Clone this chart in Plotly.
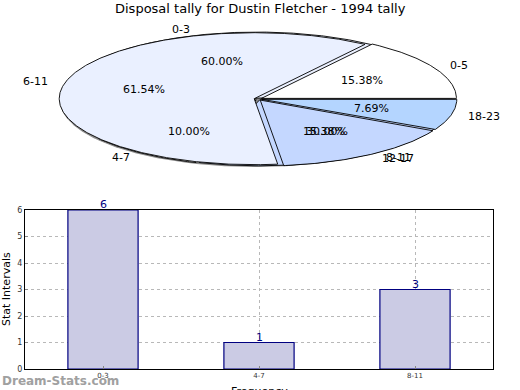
import numpy as np
import plotly.graph_objects as go

# ---- data ----
title_text = "Disposal tally for Dustin Fletcher - 1994 tally"
pieA_labels = ["0-3", "4-7", "8-11"]
pieA_values = [6, 1, 3]
pieA_colors = ["#eaf0ff", "#ffffff", "#c4d7ff"]
pieB_labels = ["0-5", "6-11", "12-17", "18-23"]
pieB_values = [2, 8, 2, 1]
pieB_colors = ["#ffffff", "#eaf0ff", "#c4d7ff", "#b4d5ff"]
bar_categories = ["0-3", "4-7", "8-11"]
bar_values = [6, 1, 3]
x_title = "Frequency"
y_title = "Stat Intervals"

FONT = "DejaVu Sans"
W, H = 520, 390
# pie geometry (pixel space of top subplot)
CX, CY, RA, RB = 258, 99, 195, 66

fig = go.Figure()


def wedges(values):
    v = np.asarray(values, dtype=float)
    frac = v / v.sum()
    ends = np.cumsum(frac) * 360
    starts = np.concatenate([[0], ends[:-1]])
    return frac, starts, ends


def add_pie(values, colors, explode, dx=0, dy=0, shadow=False):
    frac, starts, ends = wedges(values)
    for f, s, e, c in zip(frac, starts, ends, colors):
        mid = np.radians((s + e) / 2)
        ox = CX + dx + explode * RA * np.cos(mid)
        oy = CY + dy - explode * RB * np.sin(mid)
        t = np.radians(np.linspace(s, e, max(int(e - s) * 2, 4)))
        xs = np.concatenate([[ox], ox + RA * np.cos(t), [ox]])
        ys = np.concatenate([[oy], oy - RB * np.sin(t), [oy]])
        fig.add_trace(go.Scatter(
            x=xs, y=ys, mode="lines", fill="toself",
            fillcolor="rgba(0,0,0,0.45)" if shadow else c,
            line=dict(color="rgba(0,0,0,0)" if shadow else "black", width=0 if shadow else 0.9),
            xaxis="x2", yaxis="y2", hoverinfo="skip", showlegend=False))


# shadows
add_pie(pieA_values, pieA_colors, 0.0, dx=-3, dy=2, shadow=True)
# pie A
add_pie(pieA_values, pieA_colors, 0.015)
# pie B on top
add_pie(pieB_values, pieB_colors, 0.02)


def add_labels(labels, values):
    frac, starts, ends = wedges(values)
    for lab, f, s, e in zip(labels, frac, starts, ends):
        mid = np.radians((s + e) / 2)
        cx, sy = np.cos(mid), np.sin(mid)
        fig.add_annotation(x=CX + 0.6 * RA * cx, y=CY - 0.6 * RB * sy, xref="x2", yref="y2",
                           text=f"{f*100:.2f}%", showarrow=False,
                           font=dict(family=FONT, size=11, color="black"),
                           xanchor="center", yanchor="middle")
        fig.add_annotation(x=CX + 1.1 * RA * cx, y=CY - 1.1 * RB * sy, xref="x2", yref="y2",
                           text=lab, showarrow=False,
                           font=dict(family=FONT, size=11, color="black"),
                           xanchor="left" if cx > 0 else "right", yanchor="middle")


add_labels(pieA_labels, pieA_values)
add_labels(pieB_labels, pieB_values)

# bar chart
fig.add_trace(go.Bar(
    x=bar_categories, y=bar_values, width=0.45,
    marker=dict(color="#cbcbe4", line=dict(color="#000080", width=1.2)),
    showlegend=False, hoverinfo="skip"))
for cat, val in zip(bar_categories, bar_values):
    fig.add_annotation(x=cat, y=val, xref="x", yref="y", text=str(val), showarrow=False,
                       font=dict(family=FONT, size=11, color="#000080"),
                       xanchor="center", yanchor="bottom", yshift=-3)

x0, x1 = 25 / W, 493 / W
y0, y1 = (H - 369) / H, (H - 210) / H

fig.update_layout(
    width=W, height=H, autosize=False,
    margin=dict(l=0, r=0, t=0, b=0, autoexpand=False),
    paper_bgcolor="white", plot_bgcolor="rgba(0,0,0,0)",
    font=dict(family=FONT, color="black"),
    xaxis=dict(domain=[x0, x1], range=[-0.5, 2.5], type="category", automargin=False,
               showline=True, mirror=True, linecolor="black", linewidth=1,
               showgrid=True, gridcolor="#b8b8b8", griddash="dot", gridwidth=1,
               ticks="inside", ticklen=3, tickcolor="#888",
               tickfont=dict(family=FONT, size=7, color="#333"),
               zeroline=False),
    yaxis=dict(domain=[y0, y1], range=[0, 6], dtick=1, automargin=False,
               showline=True, mirror=True, linecolor="black", linewidth=1,
               showgrid=True, gridcolor="#b8b8b8", griddash="dot", gridwidth=1,
               ticks="inside", ticklen=3, tickcolor="#888",
               tickfont=dict(family=FONT, size=8, color="#333"),
               zeroline=False),
    xaxis2=dict(domain=[0, 1], range=[0, W], visible=False, fixedrange=True, automargin=False),
    yaxis2=dict(domain=[0.5, 1], range=[H / 2, 0], visible=False, fixedrange=True, automargin=False),
)

fig.add_annotation(x=0.5, y=8, xref="paper", yref="y2", text=title_text, showarrow=False,
                   font=dict(family=FONT, size=13, color="black"), xanchor="center", yanchor="middle")
fig.add_annotation(x=0.5, y=0, xref="x domain", yref="y domain", text=x_title, showarrow=False,
                   font=dict(family=FONT, size=11, color="black"),
                   xanchor="center", yanchor="top", yshift=-14)
fig.add_annotation(x=0, y=0.5, xref="x domain", yref="y domain", text=y_title, showarrow=False,
                   textangle=-90, font=dict(family=FONT, size=11, color="black"),
                   xanchor="right", yanchor="middle", xshift=-10)
fig.add_annotation(x=0, y=0, xref="paper", yref="paper", text="<b>Dream-Stats.com</b>",
                   showarrow=False, font=dict(family=FONT, size=12, color="#a0a0a0"),
                   xanchor="left", yanchor="bottom", yshift=0)

fig.write_html("out.html", config={"displayModeBar": False},
               post_script="document.body.style.margin='0';document.body.style.overflow='hidden';")
